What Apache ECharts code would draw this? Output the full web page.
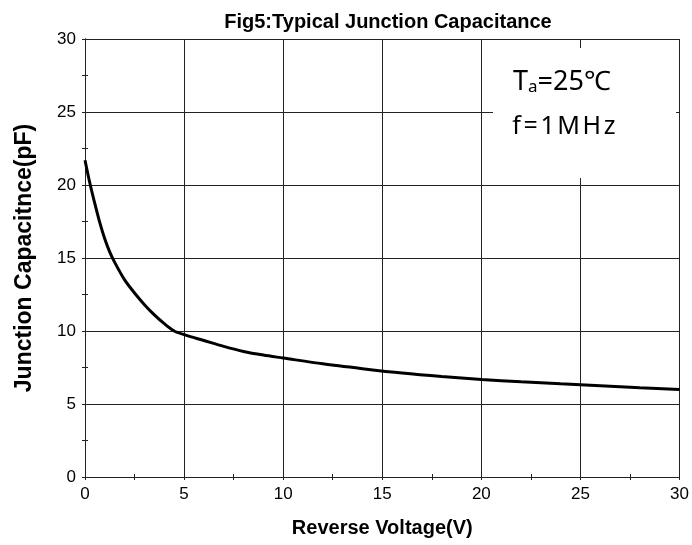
<!DOCTYPE html>
<html>
<head>
<meta charset="utf-8">
<script src="https://cdn.jsdelivr.net/npm/echarts@6/dist/echarts.min.js"></script>
<style>
html,body{margin:0;padding:0;background:#fff;}
#chart{width:692px;height:545px;}
</style>
</head>
<body>
<div id="chart"></div>
<script>
const voltage = [0, 0.25, 0.5, 0.75, 1, 1.25, 1.5, 2, 2.5, 3, 3.5, 4, 4.5, 5, 6, 7, 8, 9, 10, 12, 14, 16, 18, 20, 22, 24, 26, 28, 30];
const capacitance = [21.7, 20.1, 18.7, 17.4, 16.3, 15.4, 14.7, 13.5, 12.6, 11.8, 11.1, 10.5, 10.0, 9.75, 9.35, 8.95, 8.6, 8.35, 8.15, 7.75, 7.42, 7.12, 6.88, 6.68, 6.52, 6.38, 6.25, 6.12, 6.0];
const xTicks = [0, 5, 10, 15, 20, 25, 30];
const yTicks = [0, 5, 10, 15, 20, 25, 30];

const points = voltage.map((v, i) => [v, capacitance[i]]);
const sans = 'Liberation Sans';
const cjk = '"Noto Sans", "Noto Sans CJK SC"';
const chart = echarts.init(document.getElementById('chart'));

const lineColor = '#222';
const baseAxis = {
  min: xTicks[0], max: xTicks[xTicks.length - 1], interval: 5,
  axisLine: {show: true, lineStyle: {color: lineColor, width: 1}},
  axisTick: {show: true, inside: true, length: 3, lineStyle: {color: lineColor}},
  minorTick: {show: true, splitNumber: 2, length: 3, lineStyle: {color: lineColor}},
  splitLine: {show: false}
};

const sp = {fontFamily: cjk, fontSize: 25, padding: [0, 1.3, 0, 1.3], fill: '#000'};

chart.setOption({
  animation: false,
  backgroundColor: '#fff',
  title: {
    text: 'Fig5:Typical Junction Capacitance',
    left: 383, top: 7, textAlign: 'center',
    textStyle: {fontFamily: sans, fontWeight: 'bold', fontSize: 20, color: '#000'}
  },
  grid: {left: 85, right: 12, top: 39, bottom: 68, show: false},
  xAxis: [
    Object.assign({}, baseAxis, {
      type: 'value', position: 'bottom',
      name: 'Reverse Voltage(V)', nameLocation: 'middle', nameGap: 41,
      nameTextStyle: {fontFamily: sans, fontWeight: 'bold', fontSize: 20, color: '#000'},
      axisLabel: {show: true, margin: 9, fontFamily: sans, fontSize: 17, color: '#000'},
      splitLine: {show: true, lineStyle: {color: lineColor, width: 1}}
    }),
    Object.assign({}, baseAxis, {type: 'value', position: 'top', axisLabel: {show: false}})
  ],
  yAxis: [
    Object.assign({}, baseAxis, {
      type: 'value', position: 'left', min: yTicks[0], max: yTicks[yTicks.length - 1],
      name: 'Junction Capacitnce(pF)', nameLocation: 'middle', nameGap: 49,
      nameTextStyle: {fontFamily: sans, fontWeight: 'bold', fontSize: 23, color: '#000'},
      axisLabel: {show: true, margin: 9, fontFamily: sans, fontSize: 17, color: '#000'},
      splitLine: {show: true, lineStyle: {color: lineColor, width: 1}}
    }),
    Object.assign({}, baseAxis, {type: 'value', position: 'right', min: yTicks[0], max: yTicks[yTicks.length - 1], axisLabel: {show: false}})
  ],
  graphic: [
    {type: 'rect', z: 50, shape: {x: 493, y: 48, width: 183, height: 130}, style: {fill: '#fff'}},
    {type: 'text', z: 51, x: 513, y: 81, style: {
      text: '{t|T}{s|a}{t|=25℃}', verticalAlign: 'middle', fill: '#000',
      rich: {
        t: {fontFamily: cjk, fontSize: 27, lineHeight: 30, verticalAlign: 'bottom', fill: '#000'},
        s: {fontFamily: cjk, fontSize: 17, lineHeight: 21, verticalAlign: 'bottom', fill: '#000'}
      }
    }},
    {type: 'text', z: 51, x: 511, y: 127, style: {
      text: '{c|f}{c|=}{c|1}{c|M}{c|H}{c|z}', verticalAlign: 'middle', fill: '#000',
      rich: {c: sp}
    }}
  ],
  series: [{
    type: 'line', data: points, smooth: 0.3, symbol: 'none', z: 60,
    lineStyle: {color: '#000', width: 3}
  }]
});
</script>
</body>
</html>
